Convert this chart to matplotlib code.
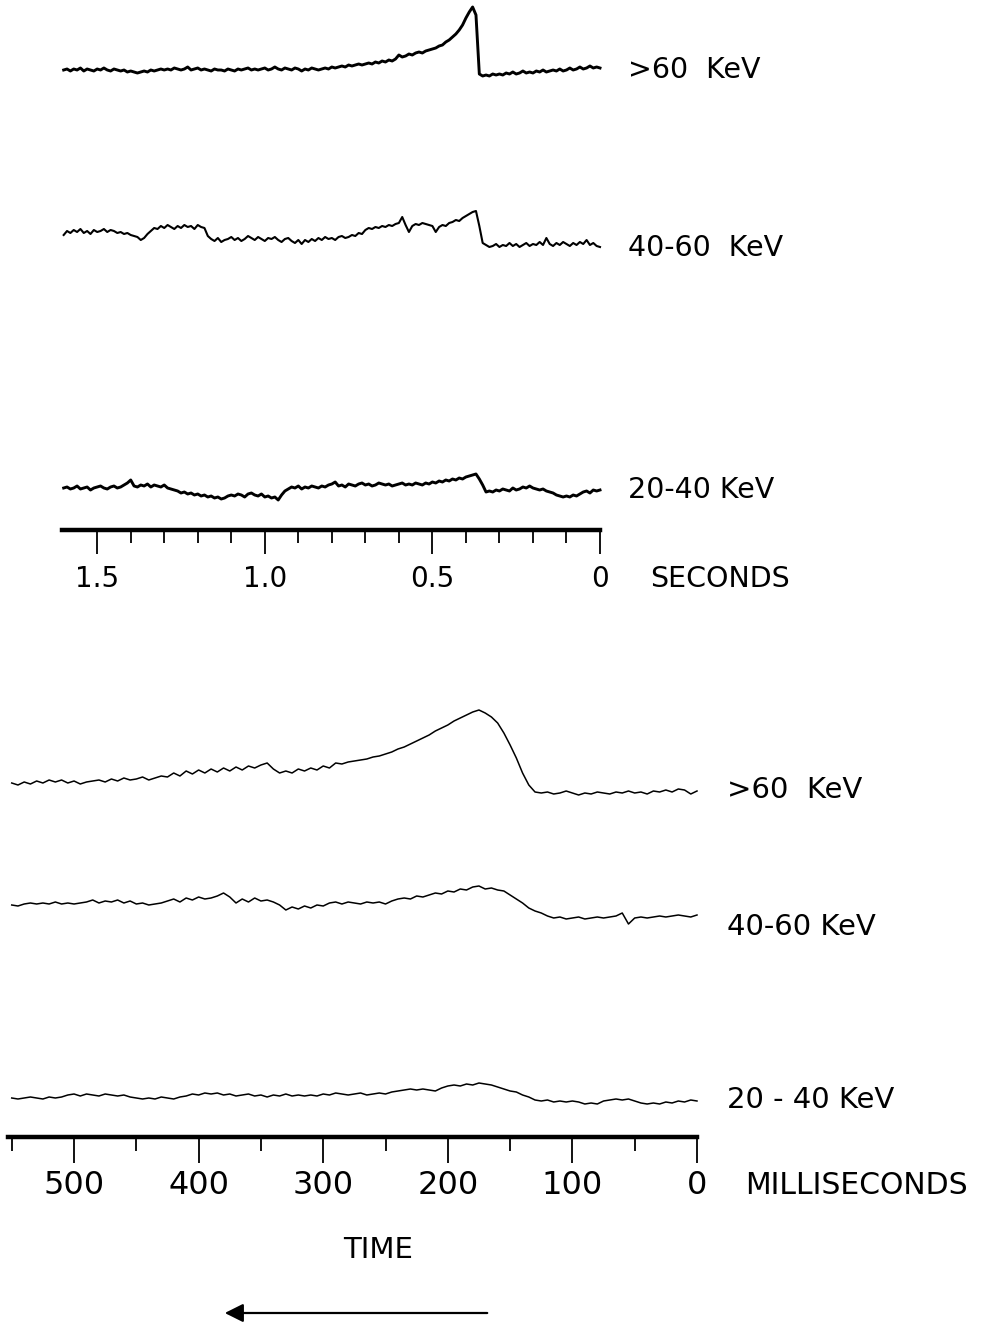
import matplotlib.pyplot as plt
import numpy as np

## Painel superior: tempo em segundos (1.60 -> 0), passo 0.01 s, deflexão em px acima da linha base
sup_60 = [0, 1, -1, 1, 0, 2, -1, 1, 0, -1, 1, 0, 2, 0, -1, 1, 0, -1, 0, -2, -1, -2, -3, -2, -1, -2, 0, -1, 0, 1,
          0, 1, 0, 2, 1, 0, 1, 3, 0, 1, 2, 0, 1, 0, -1, 1, 0, 0, -1, 1, 0, -1, 1, 0, 1, 2, 0, 1, 0, 1,
          2, 0, 1, 3, 1, 0, 2, 1, 0, 2, 1, -1, 1, 0, 2, 1, 0, 1, 2, 1, 3, 2, 3, 4, 3, 5, 4, 5, 6, 5,
          6, 7, 6, 8, 7, 9, 8, 10, 9, 11, 15, 13, 14, 16, 15, 17, 18, 17, 19, 20, 21, 22, 24, 25, 28, 30, 33, 36, 40, 45,
          52, 58, 63, 55, -4, -6, -5, -6, -4, -5,
          -4, -5, -3, -4, -2, -4, -3, -1, -3, -2, -3, -1, -2, 0, -2, -1, 0, -1, 1, -1, 0, 2, 0, 1, 3, 1, 2, 4, 2, 3, 2]

sup_40_60 = [-1, 3, 1, 4, 2, 5, 1, 3, 0, 4, 2, 3, 5, 2, 4, 3, 1, 2, 0, 1, -1, -2, -3,
             -6, -4, 0, 3, 6,
             5, 8, 6, 9, 7, 5, 8, 6, 9, 7, 8, 5, 9, 7, 6,
             -2,
             -5, -7, -4, -8, -6, -5, -3, -6, -4, -7, -5, -2, -4, -6, -3, -5, -7, -4, -5, -3, -6, -8, -5, -4,
             -7, -9, -6, -10,
             -6, -8, -5, -7, -4, -6, -3, -5, -4, -6, -3, -2, -4,
             -3, -1, -2, 1, 0,
             4, 6, 5, 7, 6, 8, 7, 9, 8, 10, 11,
             17, 9, 2,
             8, 10, 9, 11, 10, 9,
             8, 2,
             7, 9, 8, 11, 12, 14, 13, 16, 18, 20,
             22, 23, 8, -9,
             -11, -13, -12, -10, -13, -11, -12, -9, -12, -10, -13, -11, -9, -12, -10, -11, -8, -11, -4, -10,
             -12, -9, -11, -8, -10, -12, -9, -11, -8, -10, -6, -11, -9, -12, -13]

sup_20_40 = [0, 1, -1, 0, 2, -1, 0, 1, -2, 0, 1, 2, 0, -1, 1, 2, 0, 1,
             3, 5, 8,
             2, 1, 3, 2, 4, 1, 3,
             2, 1, 3, 0, -1, -2,
             -3, -5, -4, -6, -5, -7, -6, -8, -7, -9, -8, -10, -9, -11, -10, -8,
             -7, -8, -6, -7, -9, -6, -5, -7, -8, -6, -9, -8, -10, -9,
             -12, -7, -3,
             -1, 1, 0, 2, -1, 1, 0, 2, 1, 0, 2, 1, 3,
             4, 6,
             2, 3, 1, 4, 3, 2, 4, 5, 3, 4, 2, 3, 5, 4, 3, 4, 2, 3, 4, 5, 3, 4, 3, 5, 4, 3, 5, 4, 6,
             5, 7, 6, 8, 7, 9, 8, 10, 9, 11, 12, 13,
             14, 9, 3, -4,
             -3, -4, -2, -3, -1, -2, -3, 0, -2, -1, 1, 0, 2, 0, -1, -2, -1, -3, -4, -5,
             -7, -8, -9, -8, -9, -7, -8, -6,
             -4, -3, -5, -2, -3, -2]

## Painel inferior: tempo em milissegundos (550 -> 0), passo 5 ms
inf_60 = [0, -2, 1, -1, 2, 0, 3, 1, 3, 0, 2, -1, 1,
          2, 3, 1, 4, 2, 5, 3, 4, 6, 3, 5, 7,
          6, 10, 7, 12, 9, 13, 10, 14, 11, 15, 12, 16, 13, 17, 15, 18, 20,
          14, 10,
          12, 10, 14, 12, 15, 13, 17, 15,
          20, 19, 21,
          22, 23, 24, 26, 27,
          29, 31, 34, 36, 39, 42,
          45, 48, 52, 55, 58,
          62, 65, 68, 71,
          73, 70, 66, 60, 50, 38, 25, 10, -2, -9,
          -10, -9, -11, -10, -8, -10, -12, -10, -11, -9, -10, -11, -9, -10, -8, -10, -9, -11, -8, -9,
          -7, -9, -6, -7, -11, -8]

inf_40_60 = [0, -1, 1, 2, 1, 2, 1, 3, 1, 2, 1, 2,
             3, 5, 2, 4, 3, 5, 2, 4,
             1, 2, 0, 1, 2,
             4, 6, 3, 7, 5, 8, 6, 7,
             9, 12, 8, 2,
             6, 3, 7, 4, 5, 3,
             0, -5,
             -2, -4, -1, -3, 0, -1,
             2, 3, 1, 3, 2,
             1, 3, 2, 3, 1, 4,
             6, 7, 6, 9, 8, 10, 12, 11, 14, 13, 16, 15, 18,
             19, 16, 17, 15, 14,
             10, 6, 2,
             -3, -6, -8,
             -11, -13, -12, -14, -13, -12, -14, -13, -12, -13,
             -12, -11, -8, -19,
             -13, -12, -13, -12, -11, -12, -11, -10, -11, -12, -10]

inf_20_40 = [0, -1, 0, 1, 0, -1, 1, 0, 1,
             3, 4, 2, 4,
             3, 2, 4, 3, 2, 3, 1,
             0, -1, 0, -1, 1, 0, -1, 1,
             2, 4, 3, 5, 4, 5,
             3, 4, 2, 3, 4, 2, 3, 1, 3, 2, 4, 2, 3, 2,
             3, 2, 4, 3, 5, 4, 3, 4, 5, 3, 4, 5, 4,
             6, 7, 8,
             9, 8, 9, 8,
             7, 10, 12,
             13, 12, 14, 13, 15, 14, 13,
             11, 9, 7, 6, 3, 1,
             -2, -3, -2, -4, -3, -4, -3, -4,
             -6, -5, -6,
             -3, -2, -1, -2, -1, -3,
             -5, -6, -5, -6, -4,
             -5, -3, -4, -2, -3]

t_seg = np.linspace(1.60, 0, len(sup_60))
t_ms = np.linspace(550, 0, len(inf_60))

# rótulos de cada canal
canais_sup = ['>60  KeV', '40-60  KeV', '20-40 KeV']
canais_inf = ['>60  KeV', '40-60 KeV', '20 - 40 KeV']

W, H = 988, 1325
fig = plt.figure(figsize=(W / 100, H / 100), dpi=100)
plt.rcParams['font.family'] = 'DejaVu Sans'


def px(x, y):
    return x / W, 1 - y / H


def eixo(ax):
    for s in ['top', 'left', 'right']:
        ax.spines[s].set_visible(False)
    ax.spines['bottom'].set_linewidth(3.2)
    ax.set_yticks([])
    ax.patch.set_alpha(0)


## Gráfico superior
ax1 = fig.add_axes([62 / W, 1 - 530 / H, 538 / W, 530 / H])
eixo(ax1)
ax1.plot(t_seg, np.array(sup_60) + 460, color='black', lw=2.1, clip_on=False)
ax1.plot(np.linspace(1.60, 0, len(sup_40_60)), np.array(sup_40_60) + 296, color='black', lw=1.5, clip_on=False)
ax1.plot(np.linspace(1.60, 0, len(sup_20_40)), np.array(sup_20_40) + 42, color='black', lw=2.1, clip_on=False)
ax1.set_xlim(1.605, 0)
ax1.set_ylim(0, 530)
ax1.set_xticks([1.5, 1.0, 0.5, 0])
ax1.set_xticklabels(['1.5', '1.0', '0.5', '0'])
ax1.set_xticks(np.arange(1, 15) / 10, minor=True)
ax1.tick_params(axis='x', which='major', length=17, width=1.3, labelsize=20, pad=8)
ax1.tick_params(axis='x', which='minor', length=9, width=1.3)

## Gráfico inferior
ax2 = fig.add_axes([8 / W, 1 - 1137 / H, 689 / W, 497 / H])
eixo(ax2)
ax2.plot(t_ms, np.array(inf_60) + 354, color='black', lw=1.1, clip_on=False)
ax2.plot(np.linspace(550, 0, len(inf_40_60)), np.array(inf_40_60) + 232, color='black', lw=1.1, clip_on=False)
ax2.plot(np.linspace(550, 0, len(inf_20_40)), np.array(inf_20_40) + 39, color='black', lw=1.1, clip_on=False)
ax2.set_xlim(553, 0)
ax2.set_ylim(0, 497)
ax2.set_xticks([500, 400, 300, 200, 100, 0])
ax2.set_xticks([550, 450, 350, 250, 150, 50], minor=True)
ax2.tick_params(axis='x', which='major', length=19, width=1.3, labelsize=23, pad=5)
ax2.tick_params(axis='x', which='minor', length=10, width=1.3)

## Textos
for nome, y in zip(canais_sup, [70, 248, 490]):
    fig.text(*px(628, y), nome, fontsize=20.5, ha='left', va='center')
fig.text(*px(650, 579), 'SECONDS', fontsize=20.5, ha='left', va='center')
for nome, y in zip(canais_inf, [790, 927, 1100]):
    fig.text(*px(727, y), nome, fontsize=21, ha='left', va='center')
fig.text(*px(745, 1186), 'MILLISECONDS', fontsize=21.5, ha='left', va='center')
fig.text(*px(378, 1250), 'TIME', fontsize=21, ha='center', va='center')

# seta do tempo
fig.add_artist(plt.matplotlib.patches.FancyArrowPatch(px(490, 1313), px(222, 1313),
                                                     transform=fig.transFigure, arrowstyle='-|>',
                                                     mutation_scale=28, lw=1.6, color='black'))

plt.savefig('out.png', dpi=100)
